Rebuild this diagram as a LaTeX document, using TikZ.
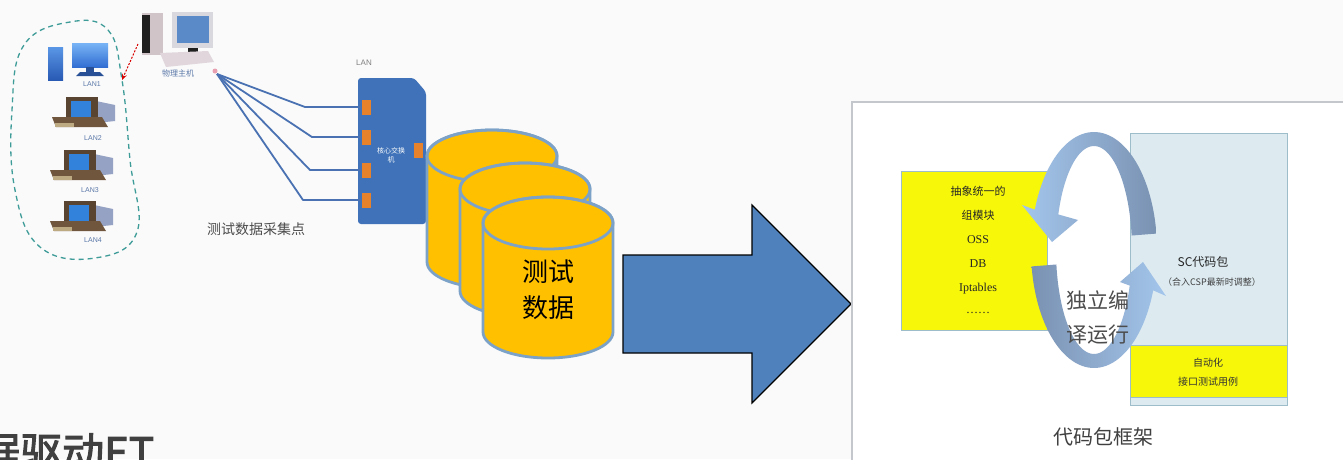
\documentclass[tikz,border=0pt]{standalone}
\usepackage{fontspec}
\setmainfont{Liberation Serif}
\setsansfont{Liberation Sans}
\newfontfamily\cjk{Noto Sans CJK SC}
\newfontfamily\cjkheavy{Noto Sans CJK SC}[FakeBold=2.5]
\usetikzlibrary{arrows.meta}

\definecolor{bgcol}{HTML}{FAFAFA}
\definecolor{netblue}{HTML}{4A72B2}
\definecolor{swblue}{HTML}{3F72B8}
\definecolor{portorange}{HTML}{E8822A}
\definecolor{loopteal}{HTML}{3E9C98}
\definecolor{dbfill}{HTML}{FFC000}
\definecolor{dbline}{HTML}{7DA2C8}
\definecolor{arrowblue}{HTML}{4F81BD}
\definecolor{panelline}{HTML}{C4C8CC}
\definecolor{boxyellow}{HTML}{F7F70A}
\definecolor{boxblue}{HTML}{DDEBF1}
\definecolor{boxblueline}{HTML}{9DBDCB}
\definecolor{ringlight}{HTML}{A4C6EC}
\definecolor{ringdark}{HTML}{7A92B2}
\definecolor{inkgray}{HTML}{404040}
\definecolor{labelblue}{HTML}{5A78A8}
% computer icon colours
\definecolor{crtback}{RGB}{150,162,195}
\definecolor{crtframe}{RGB}{88,68,48}
\definecolor{crtscreen}{RGB}{50,130,220}
\definecolor{crtcase}{RGB}{112,86,60}
\definecolor{crtkeys}{RGB}{190,170,130}
\definecolor{pctop}{RGB}{90,150,230}
\definecolor{pcbottom}{RGB}{40,90,180}
\definecolor{montop}{RGB}{120,180,245}
\definecolor{monbottom}{RGB}{50,110,210}
\definecolor{pcstand}{RGB}{40,80,150}
\definecolor{hostside}{RGB}{208,196,200}
\definecolor{hostfront}{RGB}{32,32,32}
\definecolor{hostframe}{RGB}{216,216,222}
\definecolor{hostscreen}{RGB}{90,138,200}
\definecolor{hostdesk}{RGB}{224,214,220}
\definecolor{hubpink}{RGB}{232,160,176}

\tikzset{
  lanline/.style={netblue, line width=1.8pt, line join=round},
  port/.style={fill=portorange, draw=none, minimum width=9pt, minimum height=15pt, inner sep=0pt},
  cylbody/.style={fill=dbfill, draw=dbline, line width=2.8pt},
  pclabel/.style={font=\sffamily\fontsize{7}{7}\selectfont, text=labelblue, inner sep=0pt},
  paneltext/.style={font=\cjk\fontsize{11}{11}\selectfont, text=black!85, inner sep=0pt},
  panellatin/.style={font=\fontsize{12}{12}\selectfont, text=black!85, inner sep=0pt},
}

% old desktop computer icon, origin at its top-left corner
\newcommand\oldcomputer[1]{%
  \begin{scope}[shift={#1}]
    \fill[crtback] (44,4) -- (63,8) -- (63,24) -- (44,26) -- cycle;
    \fill[crtframe] (14,0) rectangle (46,24);
    \fill[crtscreen] (19,4) rectangle (39,20);
    \fill[crtcase] (0,20) -- (50,20) -- (56,30) -- (4,30) -- cycle;
    \fill[crtkeys] (3,26) rectangle (22,30);
  \end{scope}}

\begin{document}
\begin{tikzpicture}[x=1pt,y=-1pt]
  \useasboundingbox (0,0) rectangle (1343,459);
  \clip (0,0) rectangle (1343,459);
  \fill[bgcol] (0,0) rectangle (1343,459);

  % ---------- test data collection network ----------
  \draw[loopteal, line width=1.3pt, dash pattern=on 5pt off 4pt]
    plot[smooth cycle, tension=0.7] coordinates
    {(70,22) (108,30) (122,80) (130,160) (137,232) (95,258) (40,247) (15,190) (12,110) (24,45)};

  % LAN1 workstation
  \shade[top color=pctop, bottom color=pcbottom] (48,47) rectangle (63,80);
  \shade[top color=montop, bottom color=monbottom] (72,43) rectangle (108,67);
  \fill[pcstand] (86,67) rectangle (94,72);
  \fill[pcstand] (80,72) -- (100,72) -- (104,76) -- (76,76) -- cycle;
  \node[pclabel] (lan1) at (92,84) {LAN1};

  \oldcomputer{(52,97)}
  \node[pclabel] (lan2) at (93,138) {LAN2};
  \oldcomputer{(50,150)}
  \node[pclabel] (lan3) at (90,190) {LAN3};
  \oldcomputer{(50,201)}
  \node[pclabel] (lan4) at (93,240) {LAN4};

  % host computer
  \fill[hostside] (142,13) rectangle (163,55);
  \fill[hostfront] (142,15) rectangle (150,53);
  \fill[hostframe] (172,12) rectangle (213,48);
  \fill[hostscreen] (177,16) rectangle (209,43);
  \fill[hostfront] (188,48) rectangle (198,53);
  \fill[hostdesk] (160,53) -- (208,51) -- (214,62) -- (166,67) -- cycle;
  \node[inner sep=0pt, minimum width=72pt, minimum height=55pt] (host) at (177,40) {};
  \node[font=\cjk\fontsize{8}{8}\selectfont, text=labelblue, inner sep=0pt] (hostlabel) at (178,73) {物理主机};
  \fill[hubpink] (215,71) circle (2.5pt);
  \coordinate (hub) at (217,74);

  \coordinate (hostarm) at (138,44);
  \coordinate (loopentry) at (122,80);
  \draw[red!85!black, line width=1pt, dash pattern=on 2pt off 1.5pt, -{Stealth[length=6pt,width=5pt]}] (hostarm) -- (loopentry);

  % switch
  \fill[swblue, rounded corners=3pt] (358,78) -- (414,78) -- (426,92) -- (426,224) -- (358,224) -- cycle;
  \node[font=\sffamily\fontsize{8}{8}\selectfont, text=gray, inner sep=0pt] (lanlabel) at (364,63) {LAN};
  \node[font=\cjk\fontsize{7}{9}\selectfont, text=white, align=center, inner sep=0pt] (sw) at (391,155) {核心交换\\机};
  \node[port] (p1) at (366,107) {};
  \node[port] (p2) at (366,137) {};
  \node[port] (p3) at (366,170) {};
  \node[port] (p4) at (366,200) {};
  \node[port] (pout) at (418,150) {};

  \draw[lanline] (hub) -- (305,107) -- (p1.west);
  \draw[lanline] (hub) -- (312,137) -- (p2.west);
  \draw[lanline] (hub) -- (310,170) -- (p3.west);
  \draw[lanline] (hub) -- (303,200) -- (p4.west);

  \node[font=\cjk\fontsize{14}{14}\selectfont, text=black!70, inner sep=0pt] (collect) at (256,229) {测试数据采集点};

  % ---------- test data stores ----------
  \foreach \cx/\top/\bot/\nm in {492/156/262/db1, 525/189/291/db2, 548/223/332/db3}{
    \filldraw[cylbody] (\cx-65,\top) -- (\cx-65,\bot)
      arc[start angle=180, end angle=360, x radius=65pt, y radius=26pt]
      -- (\cx+65,\top)
      arc[start angle=0, end angle=180, x radius=65pt, y radius=26pt] -- cycle;
    \draw[dbline, line width=2.8pt] (\cx,\top) ellipse[x radius=65pt, y radius=26pt];
    \coordinate (\nm) at (\cx,{(\top+\bot)/2});
  }
  \node[font=\cjk\fontsize{26}{36}\selectfont, align=center, inner sep=0pt] (dbtext) at (548,290) {测试\\数据};

  % ---------- big transfer arrow ----------
  \filldraw[fill=arrowblue, draw=black, line width=1.2pt]
    (623,255) -- (752,255) -- (752,205) -- (851,304) -- (752,403) -- (752,353) -- (623,353) -- cycle;

  % ---------- code package framework panel ----------
  \filldraw[fill=white, draw=panelline, line width=2.5pt] (852,102) rectangle (1360,480);

  \filldraw[fill=boxyellow, draw=boxblueline, line width=0.8pt] (901,171) rectangle (1047,330);
  \node[paneltext] (y1) at (978,191) {抽象统一的};
  \node[paneltext] (y2) at (978,215) {组模块};
  \node[panellatin] (y3) at (978,240) {OSS};
  \node[panellatin] (y4) at (978,264) {DB};
  \node[panellatin] (y5) at (978,289) {Iptables};
  \node[panellatin] (y6) at (978,313) {……};

  \filldraw[fill=boxblue, draw=boxblueline, line width=1pt] (1130,133) rectangle (1287,405);
  \filldraw[fill=boxyellow, draw=boxblueline, line width=0.8pt] (1130,345) rectangle (1287,397);
  \node[font=\cjk\fontsize{12}{12}\selectfont, text=black!85, inner sep=0pt] (sc) at (1203,262) {SC代码包};
  \node[font=\cjk\fontsize{9}{9}\selectfont, text=black!75, inner sep=0pt] (scnote) at (1212,282) {（合入CSP最新时调整）};
  \node[font=\cjk\fontsize{10}{10}\selectfont, text=black!80, inner sep=0pt] (auto1) at (1208,363) {自动化};
  \node[font=\cjk\fontsize{10}{10}\selectfont, text=black!80, inner sep=0pt] (auto2) at (1208,382) {接口测试用例};

  % circular build-and-run arrows
  \shade[left color=ringlight, right color=ringdark]
    plot[domain=8:160, samples=50, smooth] ({1094+63*cos(\x)},{250-118*sin(\x)})
    -- (1022,205) -- (1052,242) -- (1078,220)
    -- plot[domain=160:8, samples=50, smooth] ({1094+38*cos(\x)},{250-104*sin(\x)}) -- cycle;
  \shade[left color=ringdark, right color=ringlight]
    plot[domain=188:340, samples=50, smooth] ({1094+63*cos(\x)},{250-118*sin(\x)})
    -- (1166,296) -- (1143,262) -- (1120,282)
    -- plot[domain=340:188, samples=50, smooth] ({1094+38*cos(\x)},{250-104*sin(\x)}) -- cycle;

  \node[font=\cjk\fontsize{21}{21}\selectfont, text=black!70, inner sep=0pt] (run1) at (1098,300) {独立编};
  \node[font=\cjk\fontsize{21}{21}\selectfont, text=black!70, inner sep=0pt] (run2) at (1098,335) {译运行};
  \node[font=\cjk\fontsize{20}{20}\selectfont, text=black!75, inner sep=0pt] (frame) at (1103,437) {代码包框架};

  % ---------- slide title fragment ----------
  \node[anchor=base west, font=\cjkheavy\fontsize{42}{42}\selectfont, text=inkgray, inner sep=0pt] (title) at (-22,468) {据驱动ET};
\end{tikzpicture}
\end{document}
